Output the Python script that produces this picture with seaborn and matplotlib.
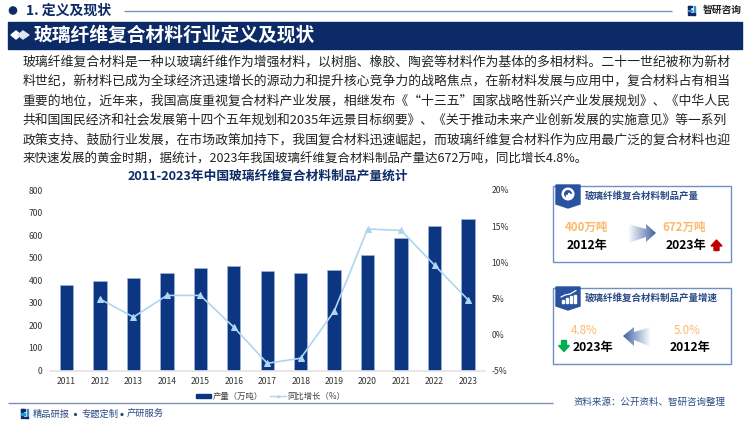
import matplotlib
matplotlib.use('Agg')
import matplotlib.pyplot as plt
import numpy as np
import pandas as pd
import seaborn as sns
from matplotlib.lines import Line2D
from matplotlib.patches import Circle, Polygon, Rectangle

years = [2011, 2012, 2013, 2014, 2015, 2016, 2017, 2018, 2019, 2020, 2021, 2022, 2023]
output = [380, 398, 408, 432, 455, 461, 442, 430, 445, 510, 586, 641, 672]
growth = [None, 4.9, 2.4, 5.4, 5.4, 1.0, -4.0, -3.3, 3.2, 14.6, 14.4, 9.6, 4.8]
left_ticks = [0, 100, 200, 300, 400, 500, 600, 700, 800]
right_ticks = [-5, 0, 5, 10, 15, 20]

body_lines = [
    "玻璃纤维复合材料是一种以玻璃纤维作为增强材料，以树脂、橡胶、陶瓷等材料作为基体的多相材料。二十一世纪被称为新材",
    "料世纪，新材料已成为全球经济迅速增长的源动力和提升核心竞争力的战略焦点，在新材料发展与应用中，复合材料占有相当",
    "重要的地位，近年来，我国高度重视复合材料产业发展，相继发布《“十三五”国家战略性新兴产业发展规划》、《中华人民",
    "共和国国民经济和社会发展第十四个五年规划和2035年远景目标纲要》、《关于推动未来产业创新发展的实施意见》等一系列",
    "政策支持、鼓励行业发展，在市场政策加持下，我国复合材料迅速崛起，而玻璃纤维复合材料作为应用最广泛的复合材料也迎",
    "来快速发展的黄金时期，据统计，2023年我国玻璃纤维复合材料制品产量达672万吨，同比增长4.8%。",
]
body_widths = [705, 705, 705, 705, 705, 563]

NAVY = '#0c3582'
DARK = '#0b2a66'
LIGHT = '#aed6f1'
ORANGE = '#fbb96b'
EDGE = '#6f8fc6'

sns.set_theme(style='white')
plt.rcParams['font.family'] = ['Noto Sans CJK SC', 'DejaVu Sans']

fig = plt.figure(figsize=(7.5, 4.22), dpi=100)

# overlay in pixel coordinates for the page furniture
bg = fig.add_axes([0, 0, 1, 1], zorder=0)
bg.set_xlim(0, 750)
bg.set_ylim(422, 0)
bg.axis('off')


def line(x0, x1, y, color='#7f8fb8', lw=1.0):
    bg.plot([x0, x1], [y, y], color=color, lw=lw, solid_capstyle='butt')


def gradient_arrow(pts, ext, reverse=False):
    grad = np.linspace(0, 1, 64).reshape(1, -1)
    if reverse:
        grad = grad[:, ::-1]
    cmap = matplotlib.colors.LinearSegmentedColormap.from_list('a', ['#ffffff', '#3f62a3'])
    im = bg.imshow(grad, extent=ext, cmap=cmap, aspect='auto', zorder=2)
    im.set_clip_path(Polygon(pts, closed=True, transform=bg.transData))
    bg.set_xlim(0, 750)
    bg.set_ylim(422, 0)


def logo(x, y, s=1.0):
    bg.add_patch(Rectangle((x, y), 4 * s, 1.6 * s, color='#0b2a66'))
    bg.add_patch(Rectangle((x, y), 1.6 * s, 9 * s, color='#0b2a66'))
    bg.add_patch(Rectangle((x, y + 4 * s), 4 * s, 1.6 * s, color='#2f8fd8'))
    bg.add_patch(Rectangle((x + 5.5 * s, y), 1.8 * s, 9 * s, color='#2f8fd8'))
    bg.add_patch(Rectangle((x + 2.5 * s, y + 7.5 * s), 4 * s, 1.6 * s, color='#0b2a66'))


# top header
bg.add_patch(Circle((13, 10.5), 3.6, color=DARK))
bg.text(26, 10.5, '1. 定义及现状', fontsize=10, fontweight='bold', color=DARK, va='center')
line(124, 672, 10.5)
logo(688, 5.5)
bg.text(703, 10, '智研咨询', fontsize=7.0, fontweight='bold', color='#222222', va='center')

# title banner
bg.add_patch(Rectangle((8, 22), 734, 27, color=DARK))
bg.add_patch(Polygon([(11, 35), (16, 31), (21, 35), (16, 39)], color='white'))
bg.add_patch(Polygon([(18, 35), (23, 31), (29, 35), (23, 39)], color='#dfe5f0'))
bg.text(33.5, 35, '玻璃纤维复合材料行业定义及现状', fontsize=13.5, fontweight='bold', color='white', va='center')

# body paragraph, each line fitted to the width it has in the justified block
renderer = fig.canvas.get_renderer()
for i, txt in enumerate(body_lines):
    t = bg.text(22.5, 62 + i * 19.4, txt, fontsize=9.2, color='#222222', va='center')
    t.set_fontsize(9.2 * body_widths[i] / t.get_window_extent(renderer).width)

bg.text(268, 176, '2011-2023年中国玻璃纤维复合材料制品产量统计', fontsize=9.15, fontweight='bold',
        color=DARK, ha='center', va='center')

# cards on the right
for top, title in [(186, '玻璃纤维复合材料制品产量'), (288, '玻璃纤维复合材料制品产量增速')]:
    bg.add_patch(Rectangle((552.5, top), 178, 76, fc='white', ec=EDGE, lw=1))
    bg.add_patch(Polygon([(556, top - 1), (580, top - 1), (580, top + 18), (568, top + 22), (556, top + 18)],
                         color='#2b52a0', zorder=3))
    bg.text(585, top + 10, title, fontsize=6.85, fontweight='bold', color='#2b4a86', va='center')
bg.add_patch(Circle((568, 194), 6.5, fc='white', ec='none', zorder=4))
bg.add_patch(Circle((568, 194), 4, fc='#2b52a0', ec='none', zorder=5))
for x0, h in [(565.5, 2), (567.5, 3.5), (569.5, 2.5)]:
    bg.add_patch(Rectangle((x0, 196.5 - h), 1.3, h, color='white', zorder=6))
for x0, h in [(562, 3), (566, 5), (570, 7), (574, 8)]:
    bg.add_patch(Rectangle((x0, 303 - h), 2.4, h, color='white', zorder=4))
bg.plot([561, 565, 570, 576], [297, 295, 294, 290.5], color='white', lw=0.9, zorder=4)

bg.text(586, 227, '400万吨', fontsize=8.3, fontweight='bold', color=ORANGE, ha='center', va='center')
bg.text(587, 245, '2012年', fontsize=8.8, fontweight='bold', color='black', ha='center', va='center')
bg.text(684, 227, '672万吨', fontsize=8.3, fontweight='bold', color=ORANGE, ha='center', va='center')
bg.text(686, 245, '2023年', fontsize=8.8, fontweight='bold', color='black', ha='center', va='center')
bg.text(584, 330, '4.8%', fontsize=8.3, color=ORANGE, ha='center', va='center')
bg.text(687, 330, '5.0%', fontsize=8.3, color=ORANGE, ha='center', va='center')
bg.text(593, 347, '2023年', fontsize=8.8, fontweight='bold', color='black', ha='center', va='center')
bg.text(690, 347, '2012年', fontsize=8.8, fontweight='bold', color='black', ha='center', va='center')

gradient_arrow([(628, 224), (646, 229), (646, 224), (656, 233), (646, 242), (646, 237), (628, 243)],
               [628, 656, 244, 224])
gradient_arrow([(651, 327), (634, 332), (634, 327), (623, 336), (634, 346), (634, 340), (651, 347)],
               [623, 651, 348, 327], reverse=True)

bg.add_patch(Polygon([(716.5, 240), (722, 246), (719, 246), (719, 250.5), (714, 250.5), (714, 246), (711, 246)],
                     color='#c00000'))
bg.add_patch(Polygon([(564, 351.5), (569.5, 345.5), (566.5, 345.5), (566.5, 340.5), (561.5, 340.5), (561.5, 345.5), (558.5, 345.5)],
                     color='#00b050'))

# footer
line(8, 553, 403)
logo(21, 409)
for x0, part in [(32.5, '精品研报'), (81.5, '专题定制'), (127, '产研服务')]:
    bg.text(x0, 414, part, fontsize=6.7, color='#2b4a86', va='center')
bg.add_patch(Circle((75.5, 414.5), 0.9, color='#2b4a86'))
bg.add_patch(Circle((122, 414.5), 0.9, color='#2b4a86'))
bg.text(574, 402, '资料来源：公开资料、智研咨询整理', fontsize=6.8, color='#2b4a86', va='center')

# combo chart
ax = fig.add_axes([49.8 / 750, 1 - 370.5 / 422, (484.7 - 49.8) / 750, 180.5 / 422], zorder=2)
ax.patch.set_alpha(0)
df = pd.DataFrame({'year': years, 'output': output, 'growth': growth})
sns.barplot(data=df, x='year', y='output', native_scale=True, color=NAVY, saturation=1, width=0.4,
            edgecolor='#9db4d8', linewidth=0.5, ax=ax)
ax.set_xlim(2010.5, 2023.5)
ax.set_ylim(0, 800)
ax.set_xticks(years)
ax.set_yticks(left_ticks)
ax.set_xlabel('')
ax.set_ylabel('')
ax.tick_params(axis='both', labelsize=6.2, colors='#333333', length=0, pad=5)
sns.despine(ax=ax, left=True, right=True, top=True)
ax.spines['bottom'].set_color('#e4e4e4')

ax2 = ax.twinx()
sns.lineplot(data=df.dropna(), x='year', y='growth', color=LIGHT, lw=1.2, marker='^', markersize=5,
             markeredgecolor=LIGHT, ax=ax2)
ax2.set_ylim(-5, 20)
ax2.set_yticks(right_ticks)
ax2.set_yticklabels([f'{v}%' for v in right_ticks])
ax2.set_ylabel('')
ax2.tick_params(axis='y', labelsize=6.2, colors='#333333', length=0, pad=5)
sns.despine(ax=ax2, left=True, right=True, top=True, bottom=True)

handles = [Rectangle((0, 0), 1, 1, color=NAVY),
           Line2D([0], [0], color=LIGHT, lw=1.0, marker='^', markersize=1.5)]
fig.legend(handles, ['产量（万吨）', '同比增长（%）'], loc='center', bbox_to_anchor=(270.5 / 750, 1 - 396.5 / 422),
           ncol=2, frameon=False, fontsize=6, labelcolor='#444444', handlelength=1.9, handleheight=0.5,
           columnspacing=0.8, handletextpad=0.2)

fig.savefig('out.png', dpi=100)
